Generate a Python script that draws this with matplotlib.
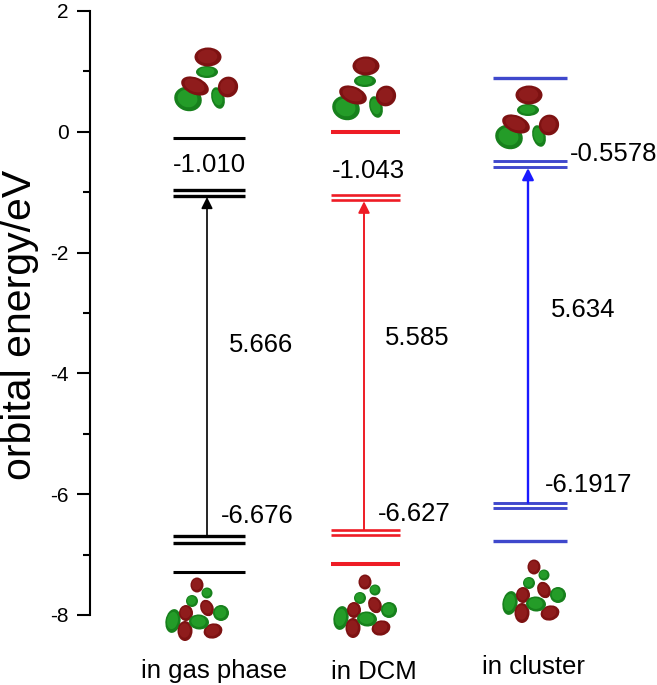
import matplotlib

matplotlib.use("Agg")
import matplotlib.pyplot as plt
from matplotlib.patches import Ellipse

plt.rcParams["font.family"] = ["Liberation Sans", "DejaVu Sans"]
plt.rcParams["axes.unicode_minus"] = False

# orbital levels, eV
gas_levels = [-0.10, -0.97, -1.06, -6.69, -6.80, -7.28]
dcm_levels = [0.0, -1.05, -1.13, -6.59, -6.68, -7.15]
cluster_levels = [0.89, -0.49, -0.58, -6.14, -6.23, -6.78]

gas_arrow = (-6.69, -1.08)
dcm_arrow = (-6.59, -1.15)
cluster_arrow = (-6.14, -0.60)

gap_labels = ["5.666", "5.585", "5.634"]
homo_labels = ["-6.676", "-6.627", "-6.1917"]
lumo_labels = ["-1.010", "-1.043", "-0.5578"]
categories = ["in gas phase", "in DCM", "in cluster"]

y_ticks = [2, 0, -2, -4, -6, -8]
y_minor = [1, -1, -3, -5, -7]

W, H = 657, 685
RED = "#7d1212"
GREEN = "#17801c"

# lobes as (dx, dy, w, h, angle, colour) in pixels, y pointing down
upper_lobes = [
    (-20, 19, 28, 24, 20, GREEN),
    (-13, 6, 29, 17, 22, RED),
    (10, 18, 13, 22, -15, GREEN),
    (20, 7, 20, 21, 30, RED),
    (-1, -8, 22, 12, 0, GREEN),
    (0, -23, 27, 19, 0, RED),
]
lower_lobes = [
    (-11, -23, 13, 15, 0, RED),
    (-1, -15, 11, 11, 0, GREEN),
    (-16, -7, 12, 12, 0, GREEN),
    (-1, 0, 13, 17, -25, RED),
    (13, 5, 16, 16, 0, GREEN),
    (-35, 13, 15, 24, 10, GREEN),
    (-23, 23, 15, 20, 0, RED),
    (-22, 5, 14, 16, 0, RED),
    (5, 23, 19, 15, -15, RED),
    (-9, 14, 20, 15, 5, GREEN),
]


def draw_orbital(over, cx, cy, lobes):
    for dx, dy, w, h, angle, colour in lobes:
        over.add_patch(Ellipse((cx + dx, cy + dy), w, h, angle=angle, color=colour, lw=0))
        light = "#8f1c1c" if colour == RED else "#249c28"
        over.add_patch(
            Ellipse((cx + dx - 0.5, cy + dy - 0.5), w * 0.72, h * 0.72, angle=angle, color=light, lw=0)
        )


fig = plt.figure(figsize=(W / 100, H / 100), dpi=100)
ax = fig.add_axes([90 / W, (H - 615) / H, (W - 90) / W, 604 / H])
ax.set_xlim(90, W)
ax.set_ylim(-8, 2)
for side in ["top", "right", "bottom"]:
    ax.spines[side].set_visible(False)
ax.spines["left"].set_linewidth(1.5)
ax.xaxis.set_visible(False)
ax.set_yticks(y_ticks)
ax.set_yticks(y_minor, minor=True)
ax.tick_params(axis="y", which="major", length=9.5, width=1.5, pad=6, labelsize=15)
ax.tick_params(axis="y", which="minor", length=5, width=1.5)
ax.patch.set_alpha(0)

columns = [
    (gas_levels, 173, 245, "black", "black", 207, gas_arrow, 2.2, 2.4, 1.2),
    (dcm_levels, 331, 400, "#ee1c25", "#ee1c25", 364, dcm_arrow, 2.9, 1.9, 1.4),
    (cluster_levels, 493, 567, "#3f48cc", "#1a1aff", 528, cluster_arrow, 2.4, 2.1, 1.7),
]
for levels, x0, x1, colour, arrow_colour, ax_x, arrow, lw_single, lw_double, lw_arrow in columns:
    for i, level in enumerate(levels):
        lw = lw_single if i in (0, 5) else lw_double
        ax.plot([x0, x1], [level, level], color=colour, lw=lw, solid_capstyle="butt")
    ax.annotate(
        "",
        xy=(ax_x, arrow[1]),
        xytext=(ax_x, arrow[0]),
        arrowprops=dict(arrowstyle="-|>", color=arrow_colour, lw=lw_arrow, mutation_scale=17, shrinkA=0, shrinkB=0),
    )

# everything decorative goes on a pixel overlay
over = fig.add_axes([0, 0, 1, 1])
over.set_xlim(0, W)
over.set_ylim(H, 0)
over.axis("off")

for cx, cy in [(208, 80), (366, 89), (529, 118)]:
    draw_orbital(over, cx, cy, upper_lobes)
for cx, cy in [(208, 608), (376, 605), (545, 590)]:
    draw_orbital(over, cx, cy, lower_lobes)

for label, x, y in zip(lumo_labels, [173, 332, 570], [165, 171, 154]):
    over.text(x, y, label, fontsize=18.5, ha="left", va="center")
for label, x, y in zip(gap_labels, [229, 385, 551], [345, 338, 310]):
    over.text(x, y, label, fontsize=18.5, ha="left", va="center")
for label, x, y in zip(homo_labels, [221, 378, 545], [516, 514, 485]):
    over.text(x, y, label, fontsize=18.5, ha="left", va="center")
for label, x, y in zip(categories, [214, 374, 533], [671, 672, 667]):
    over.text(x, y, label, fontsize=18.5, ha="center", va="center")

over.text(20, 325, "orbital energy/eV", fontsize=29.5, rotation=90, ha="center", va="center")

fig.savefig("out.png", dpi=100)
